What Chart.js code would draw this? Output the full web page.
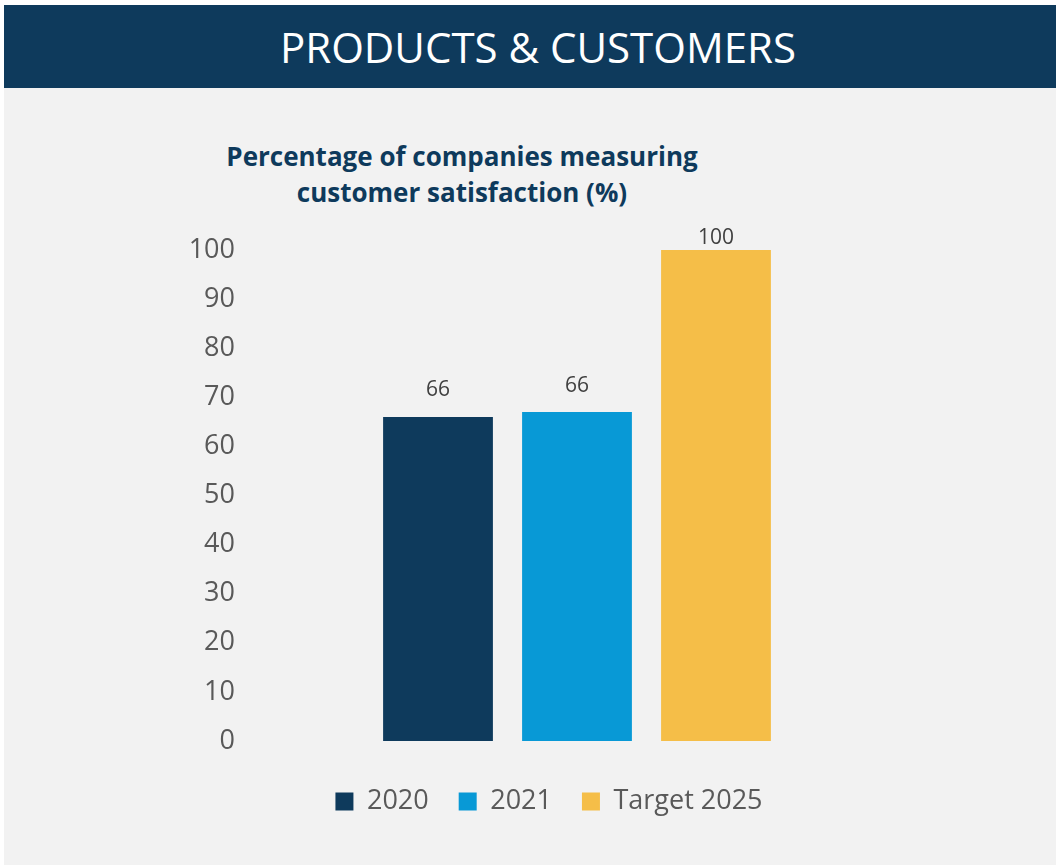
<!DOCTYPE html>
<html>
<head>
<meta charset="utf-8">
<script src="https://cdn.jsdelivr.net/npm/chart.js@4"></script>
<style>
  body { margin: 0; background: #fff; font-family: "Open Sans", sans-serif; }
  #page { position: relative; width: 1056px; height: 866px; overflow: hidden; }
  #header {
    position: absolute; left: 4px; top: 5px; width: 1036px; height: 83px; padding-left: 16px;
    background: #0e3a5c; color: #fff; font-size: 42px; line-height: 83px;
    text-align: center;
  }
  #panel { position: absolute; left: 4px; top: 88px; width: 1052px; height: 777px; background: #f2f2f2; }
  #title {
    position: absolute; left: 162px; width: 600px; top: 138px;
    text-align: center; color: #0e3a5c; font-weight: bold; font-size: 26px; line-height: 36px;
  }
  #wrap { position: absolute; left: 0; top: 0; width: 1098px; height: 866px; }
</style>
</head>
<body>
<div id="page">
  <div id="header">PRODUCTS &amp; CUSTOMERS</div>
  <div id="panel"></div>
  <div id="title">Percentage of companies measuring<br>customer satisfaction (%)</div>
  <div id="wrap"><canvas id="myChart" width="1098" height="866"></canvas></div>
</div>
<script>
  // data
  var categories = [""];
  var seriesNames = ["2020", "2021", "Target 2025"];
  var seriesValues = [66, 67, 100];
  var valueLabels = ["66", "66", "100"];
  var yTicks = [0, 10, 20, 30, 40, 50, 60, 70, 80, 90, 100];

  var colors = ["#0e3a5c", "#0899d6", "#f5be48"];

  var datasets = seriesNames.map(function(name, i) {
    return {
      label: name,
      data: [seriesValues[i]],
      backgroundColor: colors[i],
      barPercentage: 0.79,
      categoryPercentage: 0.628
    };
  });

  // value labels above each bar
  var barLabels = {
    id: "barLabels",
    afterDatasetsDraw: function(chart) {
      var ctx = chart.ctx;
      ctx.save();
      ctx.font = "21px 'Open Sans'";
      ctx.fillStyle = "#404040";
      ctx.textAlign = "center";
      ctx.textBaseline = "bottom";
      chart.data.datasets.forEach(function(ds, i) {
        var bar = chart.getDatasetMeta(i).data[0];
        var y = Math.max(bar.y - 16, chart.chartArea.top - 1);
        ctx.fillText(valueLabels[i], bar.x, y);
      });
      ctx.restore();
    }
  };

  var chart = new Chart(document.getElementById("myChart"), {
    type: "bar",
    data: { labels: categories, datasets: datasets },
    options: {
      responsive: false,
      animation: false,
      layout: { padding: { top: 250, right: 0, bottom: 41, left: 0 } },
      scales: {
        x: {
          grid: { display: false, drawTicks: false },
          border: { display: false },
          ticks: { display: false },
          afterFit: function(s) { s.height = 17; }
        },
        y: {
          min: 0,
          max: 100,
          afterFit: function(s) { s.width = 245; },
          afterBuildTicks: function(s) { s.ticks = yTicks.map(function(v) { return { value: v }; }); },
          grid: { display: false, drawTicks: false },
          border: { display: false },
          ticks: {
            padding: 10,
            color: "#595959",
            font: { family: "'Open Sans'", size: 27 }
          }
        },
        // empty right-hand space so the legend centres like the original
        yRight: {
          position: "right",
          min: 0,
          max: 100,
          grid: { display: false, drawTicks: false },
          border: { display: false },
          ticks: { display: false },
          afterFit: function(s) { s.width = 189; }
        }
      },
      plugins: {
        legend: {
          position: "bottom",
          labels: {
            boxWidth: 18,
            boxHeight: 18,
            padding: 30,
            color: "#595959",
            font: { family: "'Open Sans'", size: 27 }
          }
        },
        tooltip: { enabled: false }
      }
    },
    plugins: [barLabels]
  });
</script>
</body>
</html>
